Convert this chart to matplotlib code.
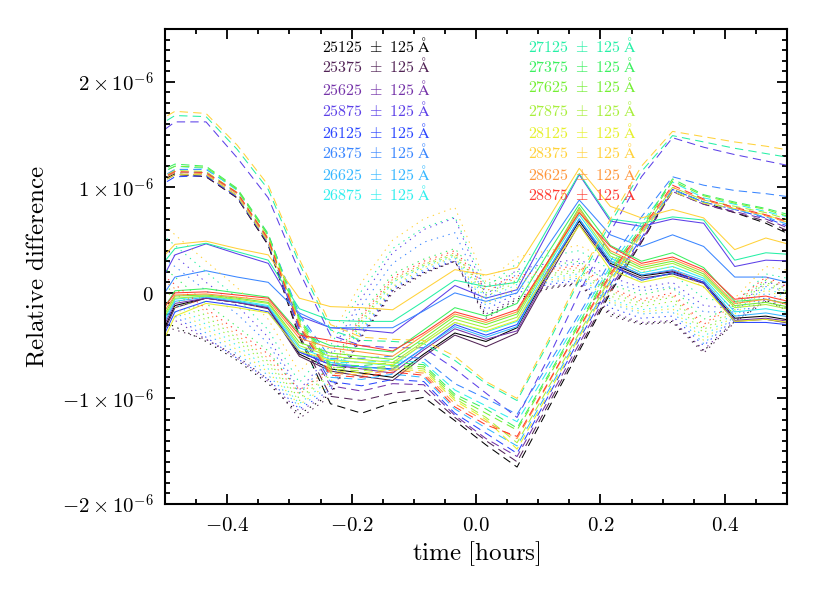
import numpy as np
import matplotlib
matplotlib.use("Agg")
import matplotlib.pyplot as plt
from matplotlib.ticker import MultipleLocator

plt.rcParams['mathtext.fontset'] = 'cm'

# time grid [hours]
time_h = [-0.534, -0.484, -0.434, -0.384, -0.334, -0.284, -0.234, -0.184, -0.134, -0.084, -0.034,
          0.016, 0.066, 0.116, 0.166, 0.216, 0.266, 0.316, 0.366, 0.416, 0.466, 0.516]

wavelengths = [25125, 25375, 25625, 25875, 26125, 26375, 26625, 26875,
               27125, 27375, 27625, 27875, 28125, 28375, 28625, 28875]
half_width = 125

colors = ['#000000', '#512355', '#7432a8', '#5c40e8', '#2a46ff', '#3a86ff', '#36b8ff', '#30eeee',
          '#26f0a6', '#3cf060', '#74ef34', '#a8ef3c', '#e6f02c', '#ffd23a', '#ff963c', '#ff3a30']

# relative difference in units of 1e-6, one row per wavelength bin
solid = [
    [-0.75, -0.12, -0.05, -0.09, -0.14, -0.58, -0.72, -0.76, -0.80, -0.58, -0.38, -0.46, -0.33, 0.20, 0.68, 0.28, 0.16, 0.20, 0.10, -0.24, -0.22, -0.27],
    [-0.78, -0.14, -0.05, -0.09, -0.15, -0.60, -0.74, -0.79, -0.83, -0.60, -0.40, -0.51, -0.38, 0.15, 0.65, 0.26, 0.14, 0.18, 0.09, -0.27, -0.25, -0.30],
    [-0.70, -0.10, -0.05, -0.09, -0.14, -0.56, -0.68, -0.72, -0.76, -0.54, -0.34, -0.44, -0.36, 0.18, 0.70, 0.30, 0.17, 0.21, 0.10, -0.26, -0.24, -0.28],
    [-0.20, 0.36, 0.465, 0.37, 0.28, -0.22, -0.33, -0.35, -0.38, -0.16, 0.07, -0.05, 0.03, 0.58, 1.12, 0.68, 0.63, 0.70, 0.66, 0.25, 0.31, 0.30],
    [-0.80, -0.18, -0.08, -0.12, -0.18, -0.56, -0.68, -0.70, -0.72, -0.52, -0.30, -0.40, -0.30, 0.22, 0.70, 0.26, 0.12, 0.19, 0.10, -0.28, -0.28, -0.31],
    [-0.30, 0.15, 0.21, 0.15, 0.10, -0.19, -0.33, -0.33, -0.33, -0.17, 0.00, -0.08, 0.00, 0.45, 0.88, 0.55, 0.44, 0.55, 0.44, 0.15, 0.15, 0.08],
    [-0.66, -0.08, -0.04, -0.08, -0.13, -0.55, -0.66, -0.70, -0.73, -0.52, -0.32, -0.42, -0.32, 0.22, 0.70, 0.30, 0.17, 0.22, 0.12, -0.22, -0.19, -0.24],
    [-0.62, -0.06, -0.03, -0.07, -0.12, -0.52, -0.63, -0.66, -0.69, -0.48, -0.28, -0.37, -0.27, 0.26, 0.74, 0.33, 0.19, 0.25, 0.14, -0.18, -0.15, -0.20],
    [0.05, 0.42, 0.47, 0.39, 0.31, -0.15, -0.26, -0.27, -0.27, -0.08, 0.12, 0.06, 0.10, 0.62, 1.13, 0.70, 0.66, 0.72, 0.69, 0.31, 0.38, 0.36],
    [-0.45, 0.02, 0.04, 0.00, -0.04, -0.38, -0.50, -0.53, -0.56, -0.35, -0.14, -0.22, -0.10, 0.38, 0.84, 0.45, 0.30, 0.38, 0.24, -0.08, -0.06, -0.12],
    [-0.55, -0.03, -0.02, -0.05, -0.09, -0.47, -0.57, -0.60, -0.63, -0.43, -0.22, -0.30, -0.20, 0.30, 0.81, 0.38, 0.24, 0.30, 0.18, -0.12, -0.09, -0.15],
    [-0.58, -0.05, -0.03, -0.06, -0.10, -0.50, -0.60, -0.63, -0.66, -0.46, -0.25, -0.33, -0.23, 0.28, 0.77, 0.35, 0.22, 0.28, 0.16, -0.14, -0.11, -0.17],
    [-0.85, -0.22, -0.10, -0.14, -0.19, -0.55, -0.64, -0.66, -0.68, -0.48, -0.28, -0.36, -0.26, 0.20, 0.64, 0.22, 0.10, 0.16, 0.06, -0.27, -0.25, -0.29],
    [0.15, 0.46, 0.49, 0.42, 0.36, -0.05, -0.13, -0.14, -0.16, 0.03, 0.22, 0.17, 0.24, 0.70, 1.18, 0.82, 0.71, 0.79, 0.71, 0.41, 0.52, 0.44],
    [-0.48, -0.02, -0.01, -0.04, -0.07, -0.43, -0.52, -0.56, -0.60, -0.40, -0.20, -0.28, -0.18, 0.30, 0.79, 0.40, 0.26, 0.32, 0.20, -0.10, -0.06, -0.13],
    [-0.40, 0.00, 0.01, -0.02, -0.05, -0.40, -0.45, -0.50, -0.55, -0.38, -0.18, -0.26, -0.16, 0.30, 0.76, 0.44, 0.28, 0.34, 0.22, -0.06, -0.03, -0.10],
]

dashed = [
    [0.97, 1.13, 1.10, 0.90, 0.45, -0.42, -1.05, -1.14, -1.04, -0.99, -1.21, -1.44, -1.65, -1.10, -0.55, 0.00, 0.48, 0.98, 0.86, 0.76, 0.66, 0.52],
    [0.96, 1.12, 1.10, 0.90, 0.46, -0.40, -0.98, -1.02, -0.95, -0.92, -1.18, -1.40, -1.60, -1.06, -0.52, 0.02, 0.48, 0.96, 0.84, 0.76, 0.68, 0.55],
    [0.95, 1.12, 1.12, 0.92, 0.48, -0.36, -0.88, -0.93, -0.86, -0.87, -1.16, -1.38, -1.55, -1.02, -0.48, 0.05, 0.50, 0.96, 0.84, 0.77, 0.70, 0.58],
    [1.40, 1.62, 1.62, 1.28, 0.90, 0.20, -0.40, -0.50, -0.52, -0.52, -0.72, -0.95, -1.18, -0.62, 0.00, 0.58, 1.10, 1.47, 1.38, 1.31, 1.25, 1.19],
    [0.92, 1.10, 1.11, 0.91, 0.47, -0.34, -0.84, -0.88, -0.82, -0.84, -1.14, -1.33, -1.52, -0.98, -0.44, 0.08, 0.52, 0.98, 0.86, 0.79, 0.71, 0.60],
    [1.00, 1.17, 1.17, 0.98, 0.55, -0.20, -0.62, -0.62, -0.60, -0.62, -0.86, -1.00, -1.15, -0.68, -0.20, 0.30, 0.72, 1.10, 1.02, 0.97, 0.94, 0.90],
    [0.98, 1.14, 1.14, 0.94, 0.50, -0.32, -0.80, -0.82, -0.77, -0.80, -1.10, -1.28, -1.45, -0.93, -0.40, 0.12, 0.56, 0.98, 0.86, 0.79, 0.72, 0.62],
    [1.05, 1.20, 1.18, 0.97, 0.55, -0.22, -0.66, -0.66, -0.64, -0.66, -0.92, -1.07, -1.22, -0.73, -0.24, 0.25, 0.66, 1.05, 0.90, 0.84, 0.77, 0.70],
    [1.50, 1.68, 1.67, 1.36, 0.98, 0.28, -0.35, -0.45, -0.46, -0.48, -0.64, -0.86, -1.02, -0.48, 0.12, 0.66, 1.15, 1.49, 1.43, 1.37, 1.32, 1.27],
    [1.08, 1.22, 1.20, 0.99, 0.56, -0.24, -0.68, -0.69, -0.66, -0.68, -0.96, -1.10, -1.28, -0.78, -0.28, 0.22, 0.62, 1.08, 0.93, 0.86, 0.80, 0.72],
    [1.06, 1.20, 1.19, 0.98, 0.54, -0.26, -0.70, -0.72, -0.69, -0.70, -0.98, -1.14, -1.30, -0.80, -0.30, 0.20, 0.60, 1.06, 0.92, 0.85, 0.79, 0.70],
    [1.00, 1.16, 1.15, 0.95, 0.52, -0.28, -0.72, -0.74, -0.70, -0.72, -1.00, -1.18, -1.42, -0.90, -0.38, 0.14, 0.58, 1.00, 0.88, 0.82, 0.76, 0.67],
    [0.95, 1.12, 1.12, 0.92, 0.48, -0.30, -0.74, -0.76, -0.72, -0.74, -1.02, -1.20, -1.48, -0.96, -0.42, 0.10, 0.55, 0.96, 0.85, 0.80, 0.74, 0.64],
    [1.55, 1.72, 1.70, 1.40, 1.02, 0.32, -0.30, -0.42, -0.44, -0.45, -0.60, -0.84, -1.00, -0.45, 0.15, 0.70, 1.20, 1.53, 1.48, 1.43, 1.39, 1.34],
    [0.98, 1.14, 1.13, 0.94, 0.50, -0.30, -0.76, -0.78, -0.73, -0.76, -1.05, -1.22, -1.38, -0.86, -0.34, 0.16, 0.58, 1.00, 0.88, 0.80, 0.73, 0.64],
    [1.00, 1.15, 1.14, 0.95, 0.51, -0.32, -0.78, -0.80, -0.75, -0.78, -1.08, -1.25, -1.36, -0.85, -0.33, 0.18, 0.60, 1.02, 0.89, 0.81, 0.74, 0.65],
]

dotted = [
    [-0.20, -0.32, -0.46, -0.64, -0.86, -1.15, -0.96, -0.41, 0.02, 0.19, 0.30, -0.22, -0.06, 0.05, 0.09, -0.20, -0.29, -0.27, -0.55, -0.27, -0.07, -0.19],
    [-0.25, -0.35, -0.44, -0.60, -0.82, -1.19, -0.98, -0.42, 0.00, 0.18, 0.30, -0.24, -0.08, 0.04, 0.08, -0.22, -0.30, -0.28, -0.57, -0.28, -0.08, -0.20],
    [-0.10, -0.26, -0.44, -0.62, -0.84, -1.12, -0.95, -0.40, 0.02, 0.20, 0.30, -0.20, -0.04, 0.06, 0.10, -0.18, -0.28, -0.26, -0.54, -0.26, -0.06, -0.18],
    [0.55, 0.35, 0.10, -0.12, -0.42, -0.92, -0.58, -0.05, 0.38, 0.60, 0.71, -0.02, 0.22, 0.28, 0.32, 0.15, 0.05, 0.10, -0.12, -0.15, 0.10, 0.05],
    [-0.05, -0.22, -0.42, -0.62, -0.82, -1.10, -0.92, -0.38, 0.04, 0.20, 0.31, -0.16, 0.00, 0.08, 0.12, -0.14, -0.24, -0.22, -0.50, -0.24, -0.04, -0.15],
    [0.45, 0.25, 0.02, -0.20, -0.48, -0.95, -0.62, -0.12, 0.28, 0.48, 0.57, -0.05, 0.18, 0.24, 0.28, 0.10, 0.02, 0.06, -0.18, -0.18, 0.06, 0.00],
    [0.00, -0.18, -0.38, -0.58, -0.78, -1.08, -0.88, -0.36, 0.05, 0.22, 0.33, -0.12, 0.03, 0.10, 0.14, -0.10, -0.20, -0.18, -0.48, -0.22, 0.00, -0.12],
    [0.10, -0.10, -0.30, -0.50, -0.72, -1.05, -0.82, -0.30, 0.10, 0.25, 0.35, -0.06, 0.08, 0.14, 0.18, -0.06, -0.16, -0.12, -0.42, -0.18, 0.05, -0.08],
    [0.70, 0.45, 0.20, -0.05, -0.35, -0.85, -0.50, 0.02, 0.42, 0.62, 0.72, 0.05, 0.28, 0.35, 0.40, 0.22, 0.12, 0.18, -0.05, -0.10, 0.18, 0.12],
    [0.40, 0.15, -0.10, -0.32, -0.55, -0.95, -0.70, -0.20, 0.18, 0.32, 0.42, 0.08, 0.20, 0.26, 0.30, 0.08, -0.02, 0.05, -0.25, -0.12, 0.12, 0.00],
    [0.20, 0.00, -0.22, -0.43, -0.65, -1.00, -0.76, -0.26, 0.12, 0.27, 0.37, 0.00, 0.12, 0.18, 0.22, 0.00, -0.10, -0.04, -0.35, -0.14, 0.10, -0.03],
    [0.15, -0.05, -0.26, -0.46, -0.68, -1.02, -0.78, -0.28, 0.10, 0.26, 0.36, -0.03, 0.10, 0.16, 0.20, -0.03, -0.13, -0.08, -0.38, -0.16, 0.08, -0.05],
    [0.05, -0.14, -0.34, -0.54, -0.75, -1.06, -0.85, -0.34, 0.06, 0.24, 0.34, -0.10, 0.05, 0.12, 0.16, -0.08, -0.18, -0.15, -0.45, -0.20, 0.03, -0.10],
    [0.85, 0.55, 0.30, 0.05, -0.25, -0.75, -0.42, 0.10, 0.50, 0.70, 0.81, 0.10, 0.34, 0.40, 0.45, 0.30, 0.20, 0.25, 0.05, -0.05, 0.25, 0.20],
    [0.25, 0.04, -0.18, -0.40, -0.62, -0.96, -0.74, -0.24, 0.13, 0.28, 0.38, 0.02, 0.14, 0.20, 0.24, 0.02, -0.08, -0.02, -0.32, -0.10, 0.13, 0.00],
    [0.30, 0.08, -0.15, -0.36, -0.58, -0.92, -0.72, -0.22, 0.15, 0.30, 0.40, 0.05, 0.16, 0.22, 0.26, 0.04, -0.06, 0.00, -0.30, -0.08, 0.15, 0.02],
]

unit = 1e-6


def main():
    fig = plt.figure(figsize=(8.3, 5.93), dpi=100)
    ax = fig.add_axes([165 / 830, 1 - 504 / 593, 622 / 830, 475 / 593])

    t = np.array(time_h)
    for i in range(len(wavelengths)):
        c = colors[i]
        ax.plot(t, np.array(solid[i]) * unit, color=c, lw=0.75)
        ax.plot(t, np.array(dashed[i]) * unit, color=c, lw=0.75, dashes=(8, 5))
        ax.plot(t, np.array(dotted[i]) * unit, color=c, lw=0.75, dashes=(1.3, 4.5))

    ax.set_xlim(-0.5, 0.5)
    ax.set_ylim(-2e-6, 2.5e-6)
    ax.set_xticks([-0.4, -0.2, 0.0, 0.2, 0.4])
    ax.set_xticklabels([r'$-0.4$', r'$-0.2$', r'$0.0$', r'$0.2$', r'$0.4$'])
    ax.xaxis.set_minor_locator(MultipleLocator(0.05))
    ax.set_yticks([-2e-6, -1e-6, 0, 1e-6, 2e-6])
    ax.set_yticklabels([r'$-2\times10^{-6}$', r'$-1\times10^{-6}$', r'$0$',
                        r'$1\times10^{-6}$', r'$2\times10^{-6}$'])
    ax.yaxis.set_minor_locator(MultipleLocator(1e-7))
    ax.tick_params(which='both', direction='in', top=True, right=True, width=1.3,
                   labelsize=15, pad=8)
    ax.tick_params(which='major', length=7)
    ax.tick_params(which='minor', length=3.5)
    for s in ax.spines.values():
        s.set_linewidth(1.5)

    ax.set_xlabel(r'$\mathrm{time\ [hours]}$', fontsize=18, labelpad=3)
    ax.set_ylabel(r'$\mathrm{Relative\ difference}$', fontsize=18, labelpad=10)

    # wavelength key, two columns of coloured text
    rows_y = [46, 66, 88, 109, 131, 152, 173, 194]
    for i, w in enumerate(wavelengths):
        col = i // 8
        row = i % 8
        x = 322 if col == 0 else 528
        y = rows_y[row]
        if w == 27625:
            y = 86
        fig.text(x / 830, 1 - y / 593,
                 r'$\mathrm{%d}\ \pm\ \mathrm{%d}\ \mathrm{\AA}$' % (w, half_width),
                 color=colors[i], fontsize=11.5, va='center', ha='left')

    fig.savefig('out.png', dpi=100)


if __name__ == '__main__':
    main()
